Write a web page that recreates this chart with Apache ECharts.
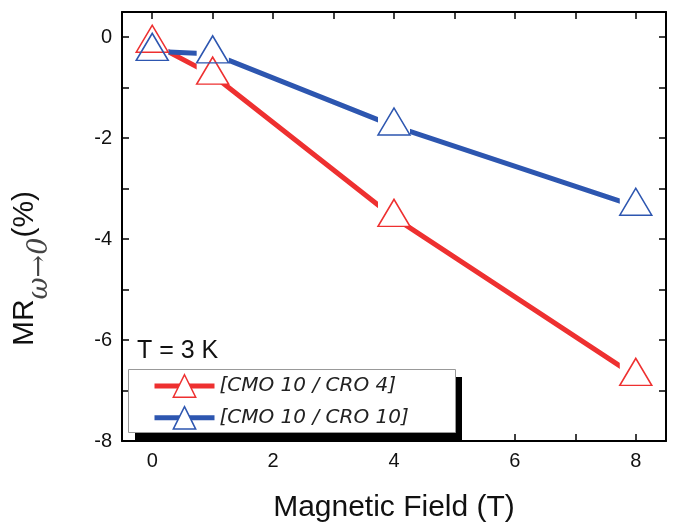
<!DOCTYPE html>
<html>
<head>
<meta charset="utf-8">
<script src="https://cdn.jsdelivr.net/npm/echarts@6/dist/echarts.min.js"></script>
<style>
html, body { margin: 0; padding: 0; background: #fff; }
#chart { width: 674px; height: 522px; }
</style>
</head>
<body>
<div id="chart"></div>
<script>
// magnetic field (T) and MR values
const fieldT = [0, 1, 4, 8]
const mrCro4 = [-0.12, -0.75, -3.57, -6.72]
const mrCro10 = [-0.28, -0.33, -1.76, -3.35]

const xTickValues = [0, 1, 2, 3, 4, 5, 6, 7, 8]
const xLabelValues = [0, 2, 4, 6, 8]
const yTickValues = [-8, -7, -6, -5, -4, -3, -2, -1, 0]
const yLabelValues = [-8, -6, -4, -2, 0]

const RED = '#ee3030'
const BLUE = '#2d56b0'
const FONT = 'Arial, "Liberation Sans", sans-serif'
const markSize = [32, 27]
const markOffset = [0, -4.5] // triangle drawn around its centroid

const sets = [
    { name: '[CMO 10 / CRO 4]', color: RED, values: mrCro4 },
    { name: '[CMO 10 / CRO 10]', color: BLUE, values: mrCro10 }
]
const pairs = vals => fieldT.map((x, i) => [x, vals[i]])

const series = []
sets.forEach(s => {
    series.push({
        name: s.name,
        type: 'line',
        data: pairs(s.values),
        symbol: 'triangle',
        showSymbol: false,
        z: 2,
        lineStyle: { color: s.color, width: 5 },
        itemStyle: { color: '#fff', borderColor: s.color, borderWidth: 1.5 }
    })
})
// white boxes that cut the lines around each marker
sets.forEach(s => {
    series.push({
        type: 'scatter',
        data: pairs(s.values),
        symbol: 'rect',
        symbolSize: markSize,
        symbolOffset: markOffset,
        itemStyle: { color: '#fff', opacity: 1 },
        silent: true,
        z: 3
    })
})
sets.forEach(s => {
    series.push({
        type: 'scatter',
        data: pairs(s.values),
        symbol: 'triangle',
        symbolSize: markSize,
        symbolOffset: markOffset,
        itemStyle: { color: 'rgba(0,0,0,0)', borderColor: s.color, borderWidth: 1.5, opacity: 1 },
        silent: true,
        z: 4
    })
})

const frameX = (pos, show) => ({
    type: 'value',
    position: pos,
    min: -0.5,
    max: 8.5,
    axisLine: { show: true, onZero: false, lineStyle: { color: '#000', width: 2 } },
    axisTick: { show: true, inside: true, length: 7, customValues: xTickValues, lineStyle: { color: '#000', width: 1.5 } },
    axisLabel: { show: show, customValues: xLabelValues, margin: 10, fontSize: 20, color: '#111', fontFamily: FONT },
    splitLine: { show: false }
})
const frameY = (pos, show) => ({
    type: 'value',
    position: pos,
    min: -8,
    max: 0.5,
    axisLine: { show: true, onZero: false, lineStyle: { color: '#000', width: 2 } },
    axisTick: { show: true, inside: true, length: 7, customValues: yTickValues, lineStyle: { color: '#000', width: 1.5 } },
    axisLabel: { show: show, customValues: yLabelValues, margin: 10, fontSize: 20, color: '#111', fontFamily: FONT },
    splitLine: { show: false }
})

const xMain = frameX('bottom', true)
xMain.name = 'Magnetic Field (T)'
xMain.nameLocation = 'middle'
xMain.nameGap = 52
xMain.nameTextStyle = { fontSize: 30, color: '#111', fontFamily: FONT }

const yMain = frameY('left', true)
yMain.name = '{m|MR}{s|ω→0}{m|(%)}'
yMain.nameLocation = 'middle'
yMain.nameGap = 69
yMain.nameTextStyle = {
    padding: [0, 84, 0, 0],
    rich: {
        m: { fontSize: 30, color: '#111', fontFamily: FONT, lineHeight: 56 },
        s: { fontSize: 27, color: '#444', fontFamily: '"DejaVu Serif", serif', fontStyle: 'italic', lineHeight: 27, verticalAlign: 'bottom' }
    }
}

const chart = echarts.init(document.getElementById('chart'))
chart.setOption({
    animation: false,
    grid: { left: 122, right: 8, top: 12, bottom: 81, outerBoundsMode: 'none', containLabel: false },
    xAxis: [xMain, frameX('top', false)],
    yAxis: [yMain, frameY('right', false)],
    legend: {
        orient: 'vertical',
        left: 130,
        top: 369,
        z: 10,
        itemWidth: 60,
        itemHeight: 28,
        itemGap: 8,
        padding: [5, 0, 0, 22],
        textStyle: { fontSize: 20, fontStyle: 'italic', color: '#222', fontFamily: '"DejaVu Sans", sans-serif' },
        data: sets.map(s => ({
            name: s.name,
            lineStyle: { color: s.color, width: 5 },
            itemStyle: { color: '#fff', borderColor: s.color, borderWidth: 1.5 }
        }))
    },
    graphic: [
        // legend frame with its solid drop shadow
        { type: 'rect', left: 135, top: 377, shape: { width: 327, height: 63 }, style: { fill: '#000' }, z: 5 },
        { type: 'rect', left: 128, top: 369, shape: { width: 327, height: 63 }, style: { fill: '#fff', stroke: '#999', lineWidth: 1 }, z: 5 },
        { type: 'text', left: 137, top: 339, style: { text: 'T = 3 K', font: '25px ' + FONT, fill: '#111' }, z: 5 }
    ],
    series
})
</script>
</body>
</html>
